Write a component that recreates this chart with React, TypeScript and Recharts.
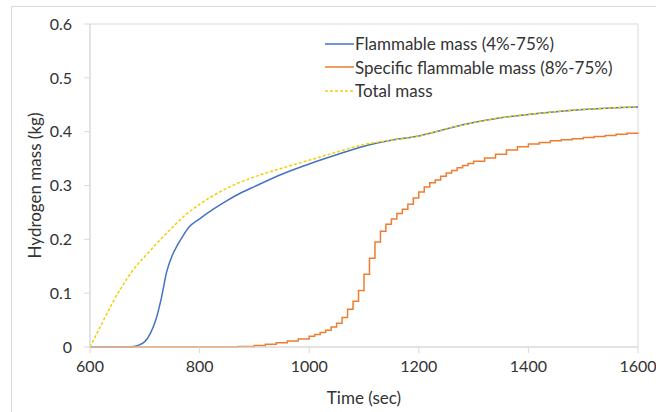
import { Label, Legend, Line, LineChart, ReferenceArea, XAxis, YAxis } from 'recharts';

const xTicks = [600, 800, 1000, 1200, 1400, 1600];
const yTicks = [0, 0.1, 0.2, 0.3, 0.4, 0.5, 0.6];

// Flammable mass (4%-75%)
const flammableTime = [
  600, 650, 680, 690, 700, 710, 720, 730, 740, 750, 760, 770, 780, 800, 825, 850, 875, 900,
  950, 1000, 1050, 1100, 1150, 1200, 1250, 1300, 1350, 1400, 1450, 1500, 1550, 1600,
];
const flammableMass = [
  0, 0, 0.001, 0.004, 0.01, 0.025, 0.05, 0.09, 0.14, 0.17, 0.19, 0.207, 0.222, 0.238, 0.256,
  0.272, 0.286, 0.298, 0.321, 0.34, 0.357, 0.373, 0.384, 0.392, 0.405, 0.417, 0.426, 0.432,
  0.437, 0.441, 0.444, 0.446,
];

// Specific flammable mass (8%-75%), stepped
const specificTime = [
  600, 850, 870, 900, 920, 940, 960, 980, 1000, 1010, 1020, 1030, 1040, 1050, 1060, 1070,
  1080, 1090, 1100, 1110, 1120, 1130, 1140, 1150, 1160, 1170, 1180, 1190, 1200, 1210, 1220,
  1230, 1240, 1250, 1260, 1270, 1280, 1290, 1300, 1320, 1340, 1360, 1380, 1400, 1420, 1440,
  1460, 1480, 1500, 1520, 1540, 1560, 1580, 1600,
];
const specificMass = [
  0, 0, 0.001, 0.003, 0.005, 0.008, 0.011, 0.015, 0.02, 0.023, 0.027, 0.031, 0.037, 0.044,
  0.055, 0.07, 0.085, 0.105, 0.135, 0.165, 0.195, 0.215, 0.228, 0.238, 0.248, 0.256, 0.265,
  0.277, 0.288, 0.297, 0.305, 0.31, 0.317, 0.323, 0.328, 0.333, 0.337, 0.341, 0.345, 0.351,
  0.358, 0.366, 0.372, 0.377, 0.38, 0.383, 0.385, 0.387, 0.389, 0.391, 0.393, 0.395, 0.397,
  0.398,
];

// Total mass
const totalTime = [
  600, 620, 640, 660, 680, 700, 725, 750, 775, 800, 850, 900, 950, 1000, 1050, 1100, 1150,
  1200, 1250, 1300, 1350, 1400, 1450, 1500, 1550, 1600,
];
const totalMass = [
  0, 0.04, 0.08, 0.115, 0.145, 0.168, 0.196, 0.222, 0.246, 0.265, 0.295, 0.316, 0.332, 0.347,
  0.362, 0.376, 0.384, 0.392, 0.405, 0.417, 0.426, 0.432, 0.437, 0.441, 0.444, 0.446,
];

const toPoints = (t: number[], v: number[]) => t.map((time, i) => ({ time, mass: v[i] }));

const BLUE = '#4472C4';
const ORANGE = '#ED7D31';
const YELLOW = '#F2D000';
const GRID = '#D9D9D9';
const TEXT = '#333333';
const FONT = 'Lato, "Open Sans", sans-serif';

const legendItems = [
  { name: 'Flammable mass (4%-75%)', color: BLUE, dash: undefined },
  { name: 'Specific flammable mass (8%-75%)', color: ORANGE, dash: undefined },
  { name: 'Total mass', color: YELLOW, dash: '3 2' },
];

function LegendBox() {
  return (
    <div style={{ fontFamily: FONT, fontSize: 17, color: TEXT }}>
      {legendItems.map((item) => (
        <div key={item.name} style={{ display: 'flex', alignItems: 'center', height: 23.5 }}>
          <svg width={29} height={4} style={{ marginRight: 1 }}>
            <line x1={0} y1={2} x2={29} y2={2} stroke={item.color} strokeWidth={1.5} strokeDasharray={item.dash} />
          </svg>
          <span>{item.name}</span>
        </div>
      ))}
    </div>
  );
}

export default function App() {
  return (
    <div style={{ position: 'absolute', left: 0, top: 0, width: 656, height: 412, overflow: 'hidden', background: '#fff' }}>
      <div
        style={{
          position: 'absolute',
          left: 11,
          top: 6,
          width: 700,
          height: 500,
          border: `1px solid ${GRID}`,
        }}
      />
      <LineChart
        width={656}
        height={412}
        margin={{ top: 24, right: 18, bottom: 35, left: 0 }}
        style={{ position: 'absolute', left: 0, top: 0, fontFamily: FONT }}
      >
        <ReferenceArea x1={600} x2={1600} y1={0} y2={0.6} fill="none" stroke={GRID} strokeWidth={1} />
        <XAxis
          dataKey="time"
          type="number"
          domain={[600, 1600]}
          ticks={xTicks}
          allowDuplicatedCategory={false}
          stroke={GRID}
          tickSize={6}
          tickMargin={8}
          tick={{ fill: TEXT, fontSize: 16 }}
          height={30}
        >
          <Label value="Time (sec)" position="insideBottom" offset={-27} fill={TEXT} fontSize={17} />
        </XAxis>
        <YAxis
          dataKey="mass"
          type="number"
          domain={[0, 0.6]}
          ticks={yTicks}
          stroke={GRID}
          tickSize={6}
          tickMargin={12}
          tick={{ fill: TEXT, fontSize: 16 }}
          width={90}
        >
          <Label
            value="Hydrogen mass (kg)"
            angle={-90}
            position="insideLeft"
            offset={35}
            fill={TEXT}
            fontSize={17}
            style={{ textAnchor: 'middle' }}
          />
        </YAxis>
        <Legend layout="vertical" align="center" verticalAlign="middle" content={<LegendBox />} wrapperStyle={{ position: 'absolute', left: 325, top: 32, width: 320 }} />
        <Line
          data={toPoints(flammableTime, flammableMass)}
          dataKey="mass"
          name="Flammable mass (4%-75%)"
          type="monotone"
          stroke={BLUE}
          strokeWidth={1.5}
          dot={false}
          isAnimationActive={false}
        />
        <Line
          data={toPoints(specificTime, specificMass)}
          dataKey="mass"
          name="Specific flammable mass (8%-75%)"
          type="stepAfter"
          stroke={ORANGE}
          strokeWidth={1.5}
          dot={false}
          isAnimationActive={false}
        />
        <Line
          data={toPoints(totalTime, totalMass)}
          dataKey="mass"
          name="Total mass"
          type="monotone"
          stroke={YELLOW}
          strokeWidth={1.5}
          strokeDasharray="3 2"
          dot={false}
          isAnimationActive={false}
        />
      </LineChart>
    </div>
  );
}
